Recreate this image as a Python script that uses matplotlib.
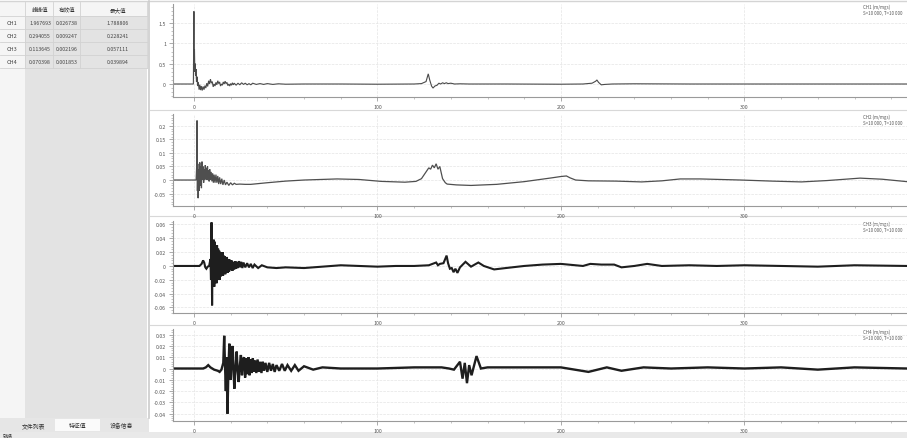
import matplotlib
matplotlib.use("Agg")
from matplotlib import pyplot as plt
from matplotlib.ticker import MultipleLocator, AutoMinorLocator
from matplotlib.patches import Rectangle

plt.rcParams['font.family'] = ['Noto Sans CJK SC', 'DejaVu Sans']

# feature table
headers = ["峰峰值", "有效值", "最大值"]
channels = ["CH1", "CH2", "CH3", "CH4"]
peak_to_peak = ["1.967693", "0.294055", "0.113645", "0.070398"]
rms_vals = ["0.026738", "0.009247", "0.002196", "0.001853"]
max_vals = ["1.788806", "0.228241", "0.057111", "0.039894"]
tabs = ["文件列表", "特征值", "设备信息"]

# waveforms (time, amplitude)
ch1_t = [-11, -0.3, 0, 0.15, 0.3, 0.5, 0.7, 0.9, 1.1, 1.4, 1.7, 2.0, 2.4, 2.8, 3.2, 3.6, 4.0, 4.5,
         5.0, 5.5, 6.0, 6.5, 7.0, 7.5, 8.0, 8.5, 9.0, 9.5, 10.0, 10.5, 11.0, 11.5, 12.0, 12.5, 13.0,
         13.5, 14.0, 14.5, 15.0, 15.5, 16.0, 16.5, 17.0, 17.5, 18.0, 18.5, 19.0, 19.5, 20.0, 20.5,
         21, 21.5, 22, 23, 24, 25, 26, 27, 28, 29, 30, 31, 32, 34, 36, 38, 40, 43, 46, 50, 60, 80,
         100, 120, 124, 126.5, 127.7, 128.5, 129.5, 130.3, 131.3, 132.5, 133.5, 134.5, 135.5, 136.5,
         137.5, 138.5, 140, 142, 145, 150, 170, 200, 212, 217, 219, 219.6, 220.5, 222, 224, 228,
         240, 270, 300, 340, 388.6]
ch1_v = [0, 0, 1.79, 0.6, 0.86, 0.3, 0.5, 0.2, 0.37, 0.05, 0.18, -0.05, 0.05, -0.14, -0.02, -0.15,
         -0.05, -0.16, -0.06, -0.14, -0.04, -0.1, 0.02, -0.06, 0.08, 0.0, 0.12, 0.02, 0.06, -0.07, 0.0,
         -0.05, 0.04, -0.02, 0.08, 0.01, 0.05, -0.05, 0.0, -0.03, 0.05, 0.0, 0.07, 0.01, 0.04, -0.04,
         0.0, -0.05, 0.01, -0.03, 0.03, -0.02, 0.02, -0.03, 0.02, -0.02, 0.03, -0.01, 0.02, -0.02,
         0.01, -0.02, 0.02, -0.01, 0.01, -0.01, 0.01, -0.01, 0.005, -0.005, 0.0, 0.0,
         -0.005, 0.0, 0.01, 0.06, 0.25, 0.1, -0.05, -0.1, -0.05, -0.03, 0.02, 0.0, 0.03, 0.01,
         0.03, 0.01, 0.02, 0.0, 0.005, 0.0, 0.0, -0.005, 0.0, 0.02, 0.07, 0.1, 0.04, -0.02, -0.01, 0.0,
         0.005, 0.0, 0.0, 0.0, 0.0]

ch2_t = [-11, 1.2, 1.5, 1.7, 1.9, 2.1, 2.3, 2.6, 2.9, 3.2, 3.5, 3.8, 4.1, 4.4, 4.7, 5.0, 5.3, 5.6,
         5.9, 6.2, 6.5, 6.8, 7.1, 7.4, 7.7, 8.0, 8.3, 8.6, 9.0, 9.4, 9.8, 10.2, 10.6, 11.0, 11.5,
         12.0, 12.5, 13.0, 13.5, 14.0, 14.6, 15.2, 15.8, 16.5, 17.2, 18, 19, 20, 21, 22, 23, 25,
         28, 31, 40, 50, 60, 78, 90, 102, 115, 121, 124, 127, 128, 129, 130, 131, 132, 133, 134,
         135.5, 137, 138, 143, 151, 165, 180, 195, 200, 203, 205, 208, 215, 230, 244, 255, 265,
         276, 298, 315, 331, 345, 363, 375, 388.6]
ch2_v = [0, 0, 0.05, 0.22, -0.04, 0.06, -0.067, 0.04, -0.04, 0.065, -0.02, 0.05, -0.03, 0.068,
         0.0, 0.05, -0.01, 0.04, 0.0, 0.055, 0.005, 0.045, 0.0, 0.05, 0.005, 0.035, -0.005, 0.04,
         0.0, 0.03, -0.005, 0.025, -0.01, 0.02, -0.01, 0.02, -0.01, 0.015, -0.015, 0.01, -0.015,
         0.005, -0.018, 0.0, -0.018, -0.008, -0.02, -0.01, -0.018, -0.012, -0.016, -0.015,
         -0.016, -0.016, -0.01, -0.004, 0.0, 0.004, 0.002, -0.005, -0.008, -0.005, 0.005, 0.035,
         0.045, 0.04, 0.055, 0.045, 0.06, 0.04, 0.05, 0.005, -0.01, -0.015, -0.018, -0.02, -0.016,
         -0.006, 0.008, 0.013, 0.015, 0.008, 0.0, -0.003, -0.004, -0.007, -0.003, 0.004,
         0.004, 0.0, -0.004, -0.007, -0.002, 0.007, 0.003, -0.006]

ch3_t = [-11, 3, 4.2, 5.0, 5.6, 6.2, 6.8, 7.5, 8.3, 9.0, 9.3, 9.6, 9.9, 10.2, 10.5, 10.8, 11.1,
         11.4, 11.7, 12.0, 12.3, 12.6, 12.9, 13.2, 13.5, 13.8, 14.1, 14.4, 14.7, 15.0, 15.3, 15.6,
         15.9, 16.2, 16.5, 16.8, 17.1, 17.4, 17.7, 18, 18.4, 18.8, 19.2, 19.6, 20, 20.5, 21, 21.5,
         22, 22.5, 23, 23.5, 24, 24.6, 25.2, 25.8, 26.4, 27, 28, 29, 30, 31, 32, 33, 35, 37, 40,
         45, 50, 60, 70, 80, 90, 100, 110, 120, 128, 132, 133, 134, 136, 137.7, 138.5, 139.5, 140.5,
         141.5, 142.5, 143.6, 145, 148, 151, 155, 158, 163.6, 170, 180, 190, 200, 212, 216, 222,
         229, 233, 240, 247, 255, 270, 285, 300, 320, 340, 360, 388.6]
ch3_v = [0, 0, 0.003, 0.008, 0.005, -0.002, -0.004, -0.001, 0.0, 0.01, -0.02, 0.063, -0.057,
         0.03, -0.025, 0.038, -0.03, 0.035, -0.02, 0.03, -0.025, 0.03, -0.02, 0.025, -0.015, 0.022,
         -0.02, 0.02, -0.015, 0.018, -0.012, 0.02, -0.014, 0.015, -0.01, 0.014, -0.012, 0.012,
         -0.008, 0.013, -0.01, 0.01, -0.008, 0.009, -0.006, 0.008, -0.007, 0.006, -0.005, 0.007,
         -0.004, 0.006, -0.003, 0.007, -0.002, 0.006, -0.003, 0.005, -0.002, 0.004, -0.002, 0.003,
         -0.003, 0.002, -0.003, 0.001, -0.002, -0.003, -0.002, -0.003, -0.001, 0.001, 0.0, -0.001,
         0.0, 0.0, 0.001, 0.005, 0.001, 0.003, 0.004, 0.015, 0.004, -0.004, -0.003, -0.009, -0.004,
         -0.01, -0.002, 0.006, -0.001, 0.005, 0.0, -0.005, -0.003, 0.0, 0.002, 0.003, 0.0, 0.003,
         0.002, 0.002, -0.002, 0.0, 0.003, 0.0, 0.001, 0.0, 0.001, 0.0, -0.001, 0.001, 0.0]

ch4_t = [-11, 5, 6.5, 7.8, 9, 11, 13, 14, 15, 16, 16.5, 17, 17.4, 17.8, 18.3, 18.8, 19.3, 19.7,
         20.1, 20.6, 21.1, 21.6, 22.0, 22.5, 23.3, 23.8, 24.4, 25.0, 25.6, 26.2, 26.8, 27.3, 27.9,
         28.5, 29.1, 29.7, 30.3, 30.9, 31.5, 32.1, 32.7, 33.3, 34, 34.7, 35.4, 36.1, 36.8, 37.5,
         38.2, 39, 40, 41, 42, 43, 44, 45, 46.5, 48, 49.5, 51, 53, 55, 57, 60, 65, 70, 80, 100,
         120, 135, 139, 141.7, 145, 146.4, 147.6, 148.8, 150, 151.3, 154, 156.4, 160, 175, 200,
         215, 225, 233, 245, 260, 280, 300, 320, 340, 360, 388.6]
ch4_v = [0, 0, 0.001, 0.003, 0.001, -0.001, -0.002, -0.003, -0.001, 0.005, 0.029, 0.0, -0.02,
         0.01, -0.04, 0.0, 0.022, 0.005, -0.01, 0.01, 0.02, 0.0, -0.018, -0.005, 0.015, 0.0,
         -0.012, 0.002, 0.012, -0.006, 0.008, 0.01, -0.008, 0.009, -0.005, 0.01, -0.006, 0.008,
         -0.004, 0.009, -0.003, 0.007, -0.004, 0.008, -0.003, 0.006, -0.004, 0.006, -0.002, 0.005,
         -0.003, 0.005, -0.002, 0.004, -0.003, 0.003, -0.002, 0.004, -0.002, 0.003, -0.002, 0.003,
         -0.002, 0.002, -0.001, 0.001, 0.0, 0.0, 0.001, 0.001, 0.0, -0.001, 0.006, -0.009, 0.005,
         -0.013, 0.003, -0.006, 0.011, 0.0, 0.001, 0.001, 0.001, -0.003, 0.001, -0.002, 0.001,
         0.0, 0.001, 0.0, 0.001, -0.001, 0.001, 0.0]

panel_t = [ch1_t, ch2_t, ch3_t, ch4_t]
panel_v = [ch1_v, ch2_v, ch3_v, ch4_v]
panel_ylim = [(-0.32, 1.97), (-0.096, 0.244), (-0.068, 0.065), (-0.0465, 0.035)]
panel_yticks = [[0, 0.5, 1, 1.5],
                [-0.05, 0, 0.05, 0.1, 0.15, 0.2],
                [-0.06, -0.04, -0.02, 0, 0.02, 0.04, 0.06],
                [-0.04, -0.03, -0.02, -0.01, 0, 0.01, 0.02, 0.03]]
panel_units = ["CH1 (m/mgs)", "CH2 (m/mgs)", "CH3 (m/mgs)", "CH4 (m/mgs)"]
panel_info = "S=10 000, T=10 000"

W, H = 907, 439
fig = plt.figure(figsize=(W / 100, H / 100), dpi=100)
fig.patch.set_facecolor("white")


def px_axes(l, t, r, b):
    return fig.add_axes([l / W, 1 - b / H, (r - l) / W, (b - t) / H])


# UI background drawn in pixel coordinates
ui = px_axes(0, 0, W, H)
ui.set_xlim(0, W)
ui.set_ylim(H, 0)
ui.axis("off")

ui.add_patch(Rectangle((0, 3), 25, 416, color="#f5f5f5", lw=0))
ui.add_patch(Rectangle((25, 17), 122, 402, color="#e3e3e3", lw=0))
ui.add_patch(Rectangle((25, 3), 122, 14, color="#f5f5f5", lw=0))
ui.plot([0, W], [2, 2], color="#d4d4d4", lw=1)
ui.plot([148.5, 148.5], [2, 419], color="#cccccc", lw=1.2)
for y in [17, 30, 43, 56, 69]:
    ui.plot([0, 147], [y, y], color="#d2d2d2", lw=0.6)
for x in [25, 53, 80, 147]:
    ui.plot([x, x], [3, 69], color="#d2d2d2", lw=0.6)

col_x = [40, 67, 118]
for x, h in zip(col_x, headers):
    ui.text(x, 10, h, fontsize=4, ha="center", va="center", color="#333333")
for i, ch in enumerate(channels):
    y = 23.5 + 13 * i
    ui.text(12, y, ch, fontsize=4, ha="center", va="center", color="#444444")
    ui.text(col_x[0], y, peak_to_peak[i], fontsize=3.8, ha="center", va="center", color="#444444")
    ui.text(col_x[1], y, rms_vals[i], fontsize=3.8, ha="center", va="center", color="#444444")
    ui.text(col_x[2], y, max_vals[i], fontsize=3.8, ha="center", va="center", color="#444444")

# bottom tabs and status bar
ui.add_patch(Rectangle((0, 419), 149, 14, color="#e6e6e6", lw=0))
ui.add_patch(Rectangle((55, 420), 45, 12, color="#fafafa", lw=0))
for x, tab in zip([34, 78, 122], tabs):
    ui.text(x, 426.5, tab, fontsize=4.2, ha="center", va="center", color="#333333")
ui.add_patch(Rectangle((0, 433), W, 6, color="#e9e9e9", lw=0))
ui.text(3, 436, "就绪", fontsize=3.6, ha="left", va="center", color="#333333")

# panel separators
for y in [111, 217, 326]:
    ui.plot([150, W], [y, y], color="#d8d8d8", lw=0.8)

rects = [(173, 5, 907, 98), (173, 115, 907, 207), (173, 222, 907, 314), (173, 330, 907, 422)]
label_y = [7, 117, 224, 332]
colors = ["#4a4a4a", "#4f4f4f", "#1e1e1e", "#1e1e1e"]
widths = [0.8, 0.9, 1.5, 1.7]

for i in range(4):
    ax = px_axes(*rects[i])
    ax.set_facecolor("none")
    ax.plot(panel_t[i], panel_v[i], color=colors[i], lw=widths[i], solid_joinstyle="miter")
    ax.set_xlim(-11.4, 388.6)
    ax.set_ylim(*panel_ylim[i])
    ax.xaxis.set_major_locator(MultipleLocator(100))
    ax.xaxis.set_minor_locator(MultipleLocator(20))
    ax.set_yticks(panel_yticks[i])
    ax.set_yticklabels(["%g" % v for v in panel_yticks[i]])
    ax.yaxis.set_minor_locator(AutoMinorLocator(5))
    ax.grid(True, which="major", color="#e4e4e4", lw=0.5, ls="--")
    for s in ["top", "right"]:
        ax.spines[s].set_visible(False)
    for s in ["left", "bottom"]:
        ax.spines[s].set_color("#9a9a9a")
        ax.spines[s].set_linewidth(0.8)
    ax.tick_params(which="major", length=3, width=0.5, color="#8a8a8a", labelsize=3.8,
                   labelcolor="#555555", pad=2)
    ax.tick_params(which="minor", length=1.5, width=0.4, color="#9a9a9a")
    ui.text(863, label_y[i], panel_units[i], fontsize=3.2, ha="left", va="center", color="#555555")
    ui.text(863, label_y[i] + 6.5, panel_info, fontsize=3.2, ha="left", va="center", color="#555555")

ui.set_zorder(-1)
fig.savefig("out.png", dpi=100)
